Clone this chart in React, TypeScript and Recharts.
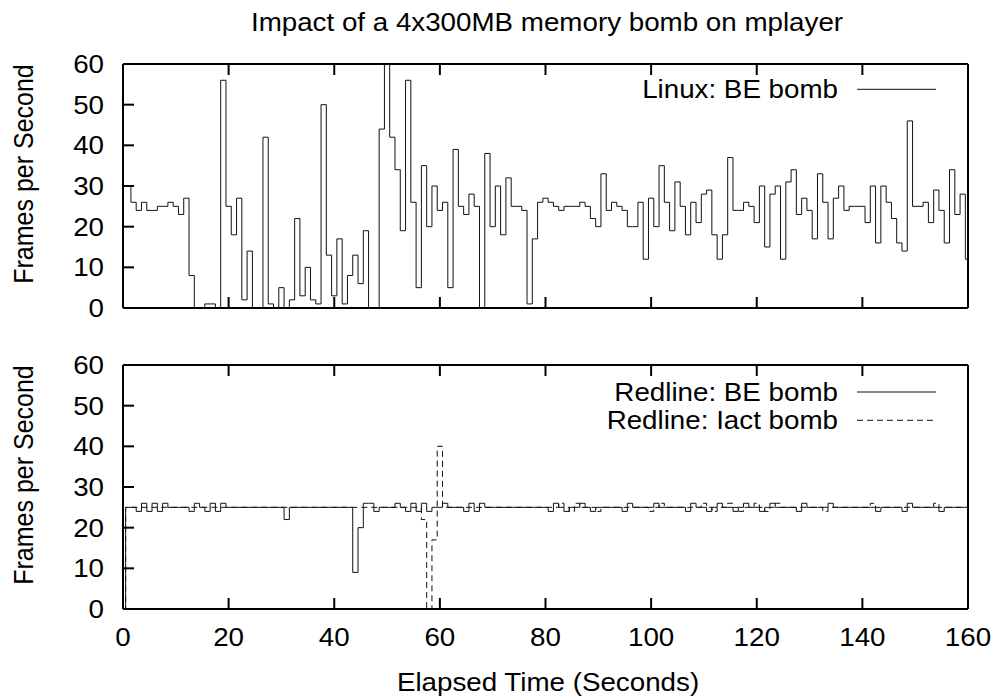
import { LineChart, Line, XAxis, YAxis, Legend } from 'recharts';

// frames per second, one sample per second; the first entry is the value at t = 0
const LINUX_BE = [
  30,
  30, 26, 24, 26, 24, 24, 25, 25, 26, 25,
  23, 27, 8, 0, 0, 1, 1, 0, 56, 25,
  18, 27, 2, 14, 0, 0, 42, 1, 0, 5,
  0, 2, 22, 3, 10, 2, 1, 50, 13, 3,
  17, 1, 8, 13, 6, 19, 0, 0, 44, 60,
  42, 34, 19, 56, 26, 5, 35, 20, 30, 24,
  26, 5, 39, 25, 23, 28, 25, 0, 38, 20,
  30, 18, 32, 25, 25, 24, 1, 17, 26, 27,
  26, 25, 24, 25, 25, 25, 26, 25, 22, 20,
  33, 24, 26, 25, 24, 20, 20, 26, 12, 27,
  20, 35, 26, 19, 31, 25, 18, 26, 21, 28,
  29, 18, 12, 18, 37, 24, 24, 26, 25, 21,
  30, 15, 28, 30, 12, 31, 34, 23, 27, 24,
  17, 33, 26, 17, 27, 30, 24, 25, 25, 25,
  21, 30, 16, 30, 26, 22, 16, 14, 46, 25,
  25, 26, 21, 29, 24, 16, 34, 23, 28, 12,
];

const REDLINE_BE = [
  0,
  25, 25, 24, 26, 24, 26, 24, 26, 25, 25,
  25, 25, 24, 26, 25, 24, 26, 24, 26, 25,
  25, 25, 25, 25, 25, 25, 25, 25, 25, 25,
  22, 25, 25, 25, 25, 25, 25, 25, 25, 25,
  25, 25, 25, 9, 20, 26, 26, 24, 25, 25,
  25, 26, 25, 24, 26, 24, 26, 24, 25, 25,
  26, 25, 25, 25, 24, 26, 24, 26, 25, 25,
  25, 25, 25, 25, 25, 25, 25, 25, 25, 25,
  24, 26, 25, 24, 25, 25, 26, 25, 24, 25,
  25, 25, 25, 25, 24, 26, 25, 25, 25, 25,
  26, 25, 25, 25, 25, 25, 24, 26, 25, 25,
  24, 25, 26, 25, 25, 24, 25, 26, 25, 25,
  24, 25, 26, 25, 25, 25, 25, 24, 26, 25,
  25, 25, 25, 26, 25, 25, 25, 25, 25, 25,
  25, 25, 24, 25, 25, 25, 25, 24, 26, 25,
  25, 25, 25, 25, 24, 25, 25, 25, 25, 25,
];

const REDLINE_IACT = [
  0,
  25, 25, 25, 25, 25, 25, 25, 25, 25, 25,
  25, 25, 25, 25, 25, 25, 25, 25, 25, 25,
  25, 25, 25, 25, 25, 25, 25, 25, 25, 25,
  25, 25, 25, 25, 25, 25, 25, 25, 25, 25,
  25, 25, 25, 25, 25, 25, 25, 25, 25, 25,
  25, 25, 25, 25, 25, 25, 22, 0, 17, 40,
  25, 25, 25, 25, 25, 25, 25, 25, 25, 25,
  25, 25, 25, 25, 25, 25, 25, 25, 25, 25,
  25, 25, 26, 25, 24, 26, 25, 25, 25, 24,
  25, 25, 25, 25, 25, 25, 25, 25, 25, 24,
  25, 26, 25, 25, 25, 25, 25, 25, 25, 26,
  25, 24, 25, 25, 26, 25, 24, 25, 25, 26,
  25, 24, 25, 26, 25, 25, 25, 25, 25, 25,
  25, 25, 24, 25, 25, 25, 25, 25, 25, 25,
  25, 26, 25, 25, 25, 25, 25, 25, 25, 25,
  25, 25, 25, 26, 25, 25, 25, 25, 25, 25,
];

const X_TICKS = [0, 20, 40, 60, 80, 100, 120, 140, 160];
const Y_TICKS = [0, 10, 20, 30, 40, 50, 60];

const TITLE = 'Impact of a 4x300MB memory bomb on mplayer';
const Y_TITLE = 'Frames per Second';
const X_TITLE = 'Elapsed Time (Seconds)';

// t = 0, then the middle of every second, then the right edge (so the last step is drawn)
const TIMES = [0, ...LINUX_BE.slice(1).map((_, k) => k + 0.5), 160];
const at = (arr: number[], i: number) => arr[Math.min(i, arr.length - 1)];
const topData = TIMES.map((t, i) => ({ t, linux: at(LINUX_BE, i) }));
const bottomData = TIMES.map((t, i) => ({ t, be: at(REDLINE_BE, i), iact: at(REDLINE_IACT, i) }));

const FONT = '"Liberation Sans", Arial, Helvetica, sans-serif';
const FS = 25;
const SX = 1.11; // the source picture is stretched sideways
const MID = 9; // baseline offset that centres the digits on a point
const TICK = 11;
const INK = '#111';
const AXIS = { stroke: '#000', strokeWidth: 2 };

function Txt({ tx, ty, anchor = 'middle', rot = false, children }: any) {
  const tr = `translate(${tx},${ty}) scale(${SX},1)${rot ? ' rotate(-90)' : ''}`;
  return (
    <text transform={tr} textAnchor={anchor} fontFamily={FONT} fontSize={FS} fill="#000">
      {children}
    </text>
  );
}

// ticks point into the plot; dir = -1 draws upward / leftward
function XTick({ x, y, payload, dir, showLabel }: any) {
  return (
    <g>
      <line x1={x} y1={y} x2={x} y2={y + dir * TICK} stroke="#000" strokeWidth={2} />
      {showLabel && <Txt tx={x} ty={y + 28 + MID}>{payload.value}</Txt>}
    </g>
  );
}

function YTick({ x, y, payload, dir, showLabel }: any) {
  return (
    <g>
      <line x1={x} y1={y} x2={x + dir * TICK} y2={y} stroke="#000" strokeWidth={2} />
      {showLabel && <Txt tx={x - 19} ty={y + MID} anchor="end">{payload.value}</Txt>}
    </g>
  );
}

function LegendBox({ payload, rows }: any) {
  return (
    <svg width={1003} height={rows[rows.length - 1] + 20} style={{ display: 'block', overflow: 'visible' }}>
      {(payload || []).map((item: any, i: number) => (
        <g key={item.value}>
          <Txt tx={838} ty={rows[i] + MID} anchor="end">{item.value}</Txt>
          <line
            x1={857}
            x2={936}
            y1={rows[i]}
            y2={rows[i]}
            stroke={INK}
            strokeWidth={1}
            strokeDasharray={item.payload?.strokeDasharray}
          />
        </g>
      ))}
    </svg>
  );
}

// axes are 1px thick boxes (recharts skips 0-sized axes); margins below account for that
function Axes({ xLabels, yTitleY, title, xTitleY }: any) {
  return [
    <XAxis
      key="xb"
      xAxisId="b"
      dataKey="t"
      type="number"
      domain={[0, 160]}
      ticks={X_TICKS}
      interval={0}
      height={1}
      tickSize={0}
      tickMargin={0}
      tickLine={false}
      axisLine={AXIS}
      tick={(p: any) => <XTick {...p} dir={-1} showLabel={xLabels} />}
      label={xTitleY ? { content: () => <Txt tx={548} ty={xTitleY}>{X_TITLE}</Txt> } : undefined}
    />,
    <XAxis
      key="xt"
      xAxisId="t"
      orientation="top"
      dataKey="t"
      type="number"
      domain={[0, 160]}
      ticks={X_TICKS}
      interval={0}
      height={1}
      tickSize={0}
      tickMargin={0}
      tickLine={false}
      axisLine={AXIS}
      tick={(p: any) => <XTick {...p} dir={1} />}
      label={title ? { content: () => <Txt tx={547} ty={30.7}>{TITLE}</Txt> } : undefined}
    />,
    <YAxis
      key="yl"
      yAxisId="l"
      type="number"
      domain={[0, 60]}
      ticks={Y_TICKS}
      interval={0}
      width={1}
      tickSize={0}
      tickMargin={0}
      tickLine={false}
      axisLine={AXIS}
      tick={(p: any) => <YTick {...p} dir={1} showLabel />}
      label={{ content: () => <Txt tx={32.5} ty={yTitleY} rot>{Y_TITLE}</Txt> }}
    />,
    <YAxis
      key="yr"
      yAxisId="r"
      orientation="right"
      type="number"
      domain={[0, 60]}
      ticks={Y_TICKS}
      interval={0}
      width={1}
      tickSize={0}
      tickMargin={0}
      tickLine={false}
      axisLine={AXIS}
      tick={(p: any) => <YTick {...p} dir={-1} />}
    />,
  ];
}

const legendProps = {
  layout: 'vertical' as const,
  align: 'center' as const,
  verticalAlign: 'middle' as const,
  wrapperStyle: { left: 0, top: 0, width: 1003, margin: 0, padding: 0, lineHeight: 0 },
};

export default function App() {
  return (
    <div style={{ position: 'absolute', left: 0, top: 0, width: 1003, height: 700, background: '#fff' }}>
      <LineChart width={1003} height={340} data={topData} margin={{ top: 63, right: 34, bottom: 31, left: 122 }}>
        {Axes({ xLabels: false, yTitleY: 174, title: true })}
        <Legend {...legendProps} content={(p: any) => <LegendBox payload={p.payload} rows={[89.3]} />} />
        <Line
          xAxisId="b"
          yAxisId="l"
          type="stepAfter"
          dataKey="linux"
          name="Linux: BE bomb"
          stroke={INK}
          strokeWidth={1}
          dot={false}
          isAnimationActive={false}
        />
      </LineChart>
      <LineChart width={1003} height={360} data={bottomData} margin={{ top: 24, right: 34, bottom: 90, left: 122 }}>
        {Axes({ xLabels: true, yTitleY: 135, xTitleY: 342 + MID })}
        <Legend {...legendProps} content={(p: any) => <LegendBox payload={p.payload} rows={[52, 80.3]} />} />
        <Line
          xAxisId="b"
          yAxisId="l"
          type="stepAfter"
          dataKey="be"
          name="Redline: BE bomb"
          stroke={INK}
          strokeWidth={1}
          dot={false}
          isAnimationActive={false}
        />
        <Line
          xAxisId="b"
          yAxisId="l"
          type="stepAfter"
          dataKey="iact"
          name="Redline: Iact bomb"
          stroke={INK}
          strokeWidth={1}
          strokeDasharray="6 4"
          dot={false}
          isAnimationActive={false}
        />
      </LineChart>
    </div>
  );
}
